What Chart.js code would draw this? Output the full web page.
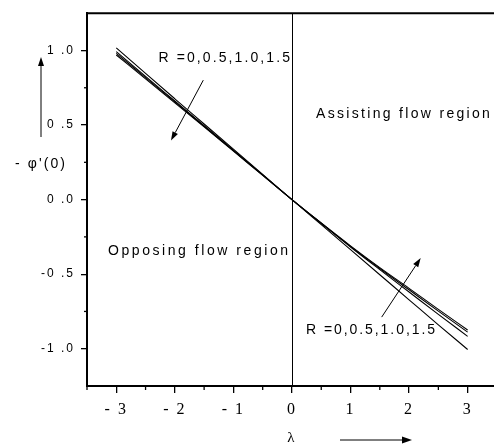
<!DOCTYPE html>
<html>
<head>
<meta charset="utf-8">
<script src="https://cdn.jsdelivr.net/npm/chart.js@4/dist/chart.umd.min.js"></script>
<style>
  html, body { margin: 0; padding: 0; background: #fff; overflow: hidden; }
  canvas { display: block; }
</style>
</head>
<body>
<canvas id="c" width="494" height="446"></canvas>
<script>
// Mixed-convection mass transfer: -phi'(0) against buoyancy parameter lambda
const lambdaValues = [-3, -2.5, -2, -1.5, -1, -0.5, 0, 0.5, 1, 1.5, 2, 2.5, 3];
const rValues = ['0', '0.5', '1.0', '1.5'];
const phiR0  = [1.018, 0.846, 0.676, 0.507, 0.338, 0.169, 0, -0.168, -0.336, -0.504, -0.672, -0.840, -1.005];
const phiR05 = [0.992, 0.826, 0.661, 0.496, 0.331, 0.166, 0, -0.160, -0.318, -0.470, -0.620, -0.770, -0.917];
const phiR10 = [0.981, 0.818, 0.655, 0.492, 0.328, 0.164, 0, -0.158, -0.314, -0.462, -0.605, -0.748, -0.889];
const phiR15 = [0.970, 0.810, 0.649, 0.488, 0.325, 0.163, 0, -0.157, -0.310, -0.456, -0.595, -0.736, -0.874];

const xTickValues = [-3, -2, -1, 0, 1, 2, 3];
const xTickLabels = ['- 3', '- 2', '- 1', '0', '1', '2', '3'];
const xMinorValues = [-3.5, -2.5, -1.5, -0.5, 0.5, 1.5, 2.5];
const yTickValues = [-1, -0.5, 0, 0.5, 1];
const yTickLabels = ['-1 .0', '-0 .5', '0 .0', '0 .5', '1 .0'];
const yMinorValues = [-0.75, -0.25, 0.25, 0.75];

const regionLabels = ['Opposing flow region', 'Assisting flow region'];
const rLabel = 'R =' + rValues.join(',');
const yTitle = "- \u03c6'(0)";
const xTitle = '\u03bb';

const SANS = '"Liberation Sans", Arial, sans-serif';
const SERIF = '"Liberation Serif", "Times New Roman", serif';

const series = [phiR0, phiR05, phiR10, phiR15];
const datasets = series.map((vals, i) => ({
  label: 'R = ' + rValues[i],
  data: lambdaValues.map((x, j) => ({ x: x, y: vals[j] })),
  borderColor: '#000',
  borderWidth: 1.1,
  pointRadius: 0,
  fill: false,
  cubicInterpolationMode: 'monotone'
}));

// Text drawn glyph by glyph, spread out to a given width
function spacedText(ctx, text, x, y, size, width) {
  ctx.font = size + 'px ' + SANS;
  ctx.textAlign = 'left';
  ctx.textBaseline = 'alphabetic';
  const chars = Array.from(text);
  const widths = chars.map(ch => ctx.measureText(ch).width);
  const total = widths.reduce((a, b) => a + b, 0);
  const gap = chars.length > 1 ? (width - total) / (chars.length - 1) : 0;
  let cx = x;
  chars.forEach((ch, i) => {
    ctx.fillText(ch, cx, y);
    cx += widths[i] + gap;
  });
}

function arrow(ctx, x1, y1, x2, y2, headLen, headHalf) {
  const ang = Math.atan2(y2 - y1, x2 - x1);
  const bx = x2 - headLen * Math.cos(ang);
  const by = y2 - headLen * Math.sin(ang);
  ctx.beginPath();
  ctx.moveTo(x1, y1);
  ctx.lineTo(bx, by);
  ctx.stroke();
  ctx.beginPath();
  ctx.moveTo(x2, y2);
  ctx.lineTo(bx + headHalf * Math.sin(ang), by - headHalf * Math.cos(ang));
  ctx.lineTo(bx - headHalf * Math.sin(ang), by + headHalf * Math.cos(ang));
  ctx.closePath();
  ctx.fill();
}

function seg(ctx, x1, y1, x2, y2) {
  ctx.beginPath();
  ctx.moveTo(x1, y1);
  ctx.lineTo(x2, y2);
  ctx.stroke();
}

const decorations = {
  id: 'decorations',
  beforeDraw(chart) {
    chart.ctx.letterSpacing = '2px';
  },
  afterDraw(chart) {
    const ctx = chart.ctx;
    const { left, right, top, bottom } = chart.chartArea;
    const xs = chart.scales.x, ys = chart.scales.y;
    const px = v => xs.getPixelForValue(v);
    const py = v => ys.getPixelForValue(v);
    ctx.save();
    ctx.letterSpacing = '0px';
    ctx.strokeStyle = '#000';
    ctx.fillStyle = '#000';

    // frame line along the top
    ctx.lineWidth = 2;
    seg(ctx, left - 1, top, right, top);

    // divider between opposing and assisting flow
    ctx.lineWidth = 1;
    const x0 = Math.round(px(0)) + 0.5;
    seg(ctx, x0, top, x0, bottom);

    // minor ticks
    ctx.lineWidth = 1.3;
    xMinorValues.forEach(v => seg(ctx, px(v), bottom, px(v), bottom + 4));
    yMinorValues.forEach(v => seg(ctx, left, py(v), left - 3, py(v)));

    // region captions
    spacedText(ctx, regionLabels[0], px(-3.141), py(-0.371), 14, px(-0.067) - px(-3.141));
    spacedText(ctx, regionLabels[1], px(0.41), py(0.549), 14, px(3.38) - px(0.41));

    // parameter captions with their arrows
    spacedText(ctx, rLabel, px(-2.28), py(0.926), 14, px(-0.034) - px(-2.28));
    spacedText(ctx, rLabel, px(0.24), py(-0.904), 14, px(2.443) - px(0.24));
    ctx.lineWidth = 1;
    arrow(ctx, px(-1.514), py(0.801), px(-2.066), py(0.396), 9, 3);
    arrow(ctx, px(1.532), py(-0.788), px(2.198), py(-0.392), 9, 3);

    // axis titles with direction arrows
    spacedText(ctx, yTitle, 15, 168, 14, 50);
    arrow(ctx, 41, 137, 41, 57, 9, 3);
    ctx.font = '15px ' + SERIF;
    ctx.textAlign = 'center';
    ctx.textBaseline = 'alphabetic';
    ctx.fillText(xTitle, 291, 442);
    arrow(ctx, 340, 440, 412, 440, 10, 3.5);

    ctx.restore();
  }
};

new Chart(document.getElementById('c'), {
  type: 'line',
  data: { datasets: datasets },
  options: {
    responsive: false,
    animation: false,
    events: [],
    layout: { padding: { top: 7, right: 0, bottom: 0, left: 0 } },
    plugins: { legend: { display: false }, tooltip: { enabled: false } },
    scales: {
      x: {
        type: 'linear',
        min: -3.5,
        max: 3.45,
        afterBuildTicks: s => { s.ticks = xTickValues.map(v => ({ value: v })); },
        afterFit: s => { s.height = 60; },
        ticks: {
          callback: (v, i) => xTickLabels[i],
          font: { family: SERIF, size: 16 },
          color: '#000',
          padding: 7,
          maxRotation: 0,
          autoSkip: false
        },
        grid: { drawOnChartArea: false, drawTicks: true, tickLength: 7, color: '#000', lineWidth: 1.3 },
        border: { color: '#000', width: 2 }
      },
      y: {
        type: 'linear',
        min: -1.25,
        max: 1.25,
        afterBuildTicks: s => { s.ticks = yTickValues.map(v => ({ value: v })); },
        afterFit: s => { s.width = 87; },
        ticks: {
          callback: (v, i) => yTickLabels[i],
          font: { family: SANS, size: 12 },
          color: '#000',
          padding: 6,
          autoSkip: false
        },
        grid: { drawOnChartArea: false, drawTicks: true, tickLength: 6, color: '#000', lineWidth: 1.3 },
        border: { color: '#000', width: 2 }
      }
    }
  },
  plugins: [decorations]
});
</script>
</body>
</html>
